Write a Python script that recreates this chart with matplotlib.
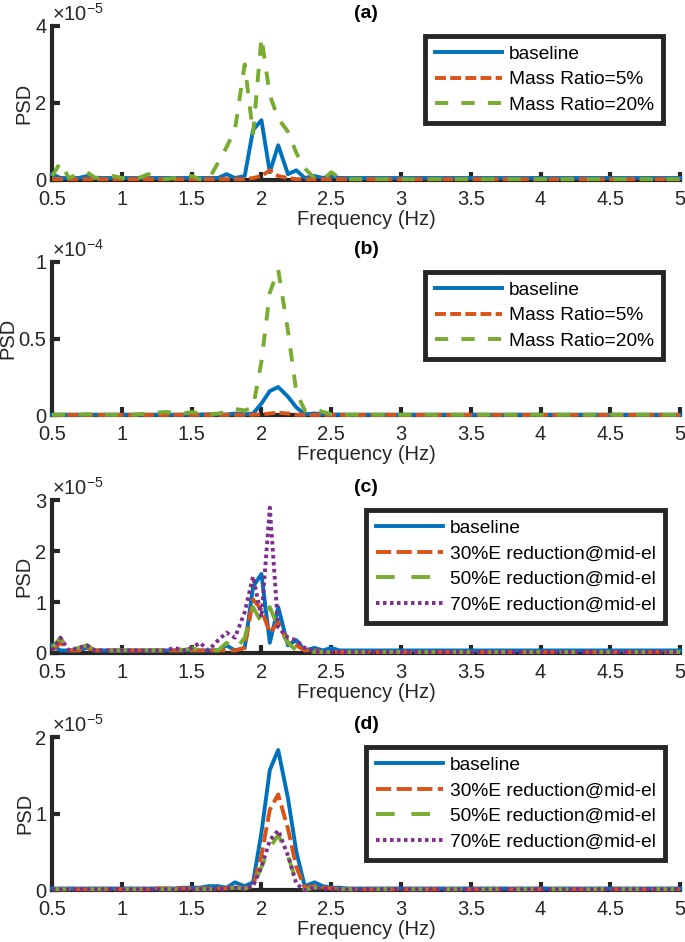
import numpy as np
import matplotlib
matplotlib.use('Agg')
import matplotlib.pyplot as plt

plt.rcParams['font.family'] = ['Liberation Sans', 'DejaVu Sans']
plt.rcParams['mathtext.fontset'] = 'custom'
plt.rcParams['mathtext.rm'] = 'Liberation Sans'

# frequency samples (Hz)
freq = [0.50, 0.56, 0.62, 0.69, 0.75, 0.81, 0.88, 0.94,
        1.00, 1.06, 1.12, 1.19, 1.25, 1.31, 1.38, 1.44,
        1.50, 1.56, 1.62, 1.69, 1.75, 1.81, 1.88, 1.94,
        2.00, 2.06, 2.12, 2.19, 2.25, 2.31, 2.38, 2.44,
        2.50, 2.56, 2.62, 2.69, 2.75, 3.00, 3.50, 4.00, 4.50, 5.00]

# PSD values, in units of 1e-5
baseline_1 = [0.15, 0.05, 0.05, 0.05, 0.10, 0.05, 0.05, 0.05,
              0.05, 0.05, 0.05, 0.05, 0.05, 0.05, 0.05, 0.05,
              0.05, 0.05, 0.05, 0.05, 0.15, 0.05, 0.10, 1.30,
              1.55, 0.20, 0.90, 0.15, 0.25, 0.05, 0.10, 0.05,
              0.10, 0.05, 0.05, 0.05, 0.05, 0.05, 0.05, 0.05, 0.05, 0.05]
mass5_a = [0.02, 0.02, 0.02, 0.02, 0.02, 0.02, 0.02, 0.02,
           0.02, 0.02, 0.02, 0.02, 0.02, 0.02, 0.02, 0.02,
           0.02, 0.02, 0.02, 0.02, 0.02, 0.02, 0.02, 0.05,
           0.10, 0.25, 0.10, 0.05, 0.02, 0.02, 0.02, 0.02,
           0.02, 0.02, 0.02, 0.02, 0.02, 0.02, 0.02, 0.02, 0.02, 0.02]
mass20_a = [0.10, 0.45, 0.05, 0.15, 0.20, 0.05, 0.10, 0.10,
            0.05, 0.05, 0.05, 0.15, 0.05, 0.02, 0.05, 0.10,
            0.10, 0.02, 0.00, 0.45, 0.85, 1.30, 3.00, 1.20,
            3.70, 2.20, 1.60, 1.25, 0.70, 0.30, 0.05, 0.00,
            0.20, 0.05, 0.02, 0.02, 0.02, 0.02, 0.02, 0.02, 0.02, 0.02]

baseline_2 = [0.02, 0.02, 0.02, 0.02, 0.02, 0.02, 0.02, 0.02,
              0.02, 0.02, 0.02, 0.02, 0.02, 0.02, 0.02, 0.03,
              0.03, 0.03, 0.05, 0.05, 0.03, 0.10, 0.05, 0.10,
              0.75, 1.57, 1.83, 1.20, 0.50, 0.05, 0.10, 0.05,
              0.03, 0.03, 0.02, 0.02, 0.02, 0.02, 0.02, 0.02, 0.02, 0.02]
mass5_b = [0.01, 0.01, 0.01, 0.01, 0.01, 0.01, 0.01, 0.01,
           0.01, 0.01, 0.01, 0.01, 0.01, 0.01, 0.01, 0.01,
           0.01, 0.01, 0.01, 0.01, 0.01, 0.01, 0.01, 0.02,
           0.05, 0.10, 0.15, 0.10, 0.02, 0.01, 0.01, 0.01,
           0.01, 0.01, 0.01, 0.01, 0.01, 0.01, 0.01, 0.01, 0.01, 0.01]
mass20_b = [0.02, 0.02, 0.02, 0.02, 0.05, 0.05, 0.02, 0.02,
            0.02, 0.02, 0.05, 0.10, 0.15, 0.20, 0.15, 0.10,
            0.20, 0.10, 0.05, 0.10, 0.20, 0.40, 0.30, 0.50,
            3.50, 8.00, 9.50, 5.50, 1.50, 0.30, 0.40, 0.20,
            0.05, 0.05, 0.02, 0.02, 0.02, 0.02, 0.02, 0.02, 0.02, 0.02]

red30_c = [0.05, 0.20, 0.05, 0.05, 0.10, 0.05, 0.05, 0.05,
           0.05, 0.05, 0.05, 0.05, 0.05, 0.05, 0.05, 0.05,
           0.05, 0.05, 0.05, 0.05, 0.05, 0.05, 0.10, 1.05,
           0.85, 0.40, 0.60, 0.20, 0.15, 0.05, 0.05, 0.02,
           0.02, 0.02, 0.02, 0.02, 0.02, 0.02, 0.02, 0.02, 0.02, 0.02]
red50_c = [0.10, 0.30, 0.05, 0.10, 0.15, 0.05, 0.05, 0.05,
           0.05, 0.05, 0.05, 0.05, 0.05, 0.05, 0.10, 0.05,
           0.10, 0.05, 0.05, 0.05, 0.20, 0.05, 0.30, 0.90,
           0.60, 0.90, 0.50, 0.20, 0.05, 0.05, 0.02, 0.02,
           0.02, 0.02, 0.02, 0.02, 0.02, 0.02, 0.02, 0.02, 0.02, 0.02]
red70_c = [0.05, 0.30, 0.05, 0.10, 0.15, 0.05, 0.05, 0.05,
           0.05, 0.05, 0.05, 0.05, 0.05, 0.05, 0.10, 0.05,
           0.10, 0.20, 0.05, 0.25, 0.40, 0.30, 0.80, 1.50,
           0.70, 2.85, 0.50, 0.30, 0.25, 0.10, 0.02, 0.02,
           0.02, 0.02, 0.02, 0.02, 0.02, 0.02, 0.02, 0.02, 0.02, 0.02]

red30_d = [0.01, 0.01, 0.01, 0.01, 0.01, 0.01, 0.01, 0.01,
           0.01, 0.01, 0.01, 0.01, 0.02, 0.02, 0.02, 0.02,
           0.02, 0.02, 0.02, 0.02, 0.02, 0.05, 0.02, 0.05,
           0.45, 1.05, 1.25, 0.80, 0.30, 0.03, 0.05, 0.03,
           0.02, 0.02, 0.01, 0.01, 0.01, 0.01, 0.01, 0.01, 0.01, 0.01]
red50_d = [0.01, 0.01, 0.01, 0.01, 0.01, 0.01, 0.01, 0.01,
           0.01, 0.01, 0.01, 0.01, 0.01, 0.01, 0.01, 0.01,
           0.01, 0.01, 0.01, 0.01, 0.02, 0.03, 0.02, 0.05,
           0.30, 0.55, 0.72, 0.45, 0.10, 0.00, 0.03, 0.02,
           0.01, 0.01, 0.01, 0.01, 0.01, 0.01, 0.01, 0.01, 0.01, 0.01]
red70_d = [0.01, 0.01, 0.01, 0.01, 0.01, 0.01, 0.01, 0.01,
           0.01, 0.01, 0.01, 0.01, 0.01, 0.01, 0.01, 0.01,
           0.01, 0.01, 0.01, 0.01, 0.02, 0.03, 0.02, 0.05,
           0.30, 0.65, 0.78, 0.45, 0.08, 0.00, 0.03, 0.02,
           0.01, 0.01, 0.01, 0.01, 0.01, 0.01, 0.01, 0.01, 0.01, 0.01]

xticks = [0.5, 1, 1.5, 2, 2.5, 3, 3.5, 4, 4.5, 5]
xticklabels = ['0.5', '1', '1.5', '2', '2.5', '3', '3.5', '4', '4.5', '5']

labels_mass = ['baseline', 'Mass Ratio=5%', 'Mass Ratio=20%']
labels_red = ['baseline', '30%E reduction@mid-el', '50%E reduction@mid-el',
              '70%E reduction@mid-el']

BLUE = '#0072BD'
ORANGE = '#D95319'
GREEN = '#77AC30'
PURPLE = '#7E2F8E'
AX_COL = '#262626'

style_mass = [(BLUE, '-'), (ORANGE, (0, (2.8, 1.1))), (GREEN, (0, (3.4, 3.4)))]
style_red = [(BLUE, '-'), (ORANGE, (0, (3.9, 1.4))), (GREEN, (0, (4.8, 4.3))),
             (PURPLE, (0, (0.9, 0.9)))]


def draw_panel(ax, series, labels, styles, ymax, yticks, yticklabels, expo, tag, leg_anchor):
    for vals, lab, (col, ls) in zip(series, labels, styles):
        ax.plot(freq, np.array(vals) * 1e-5, color=col, linestyle=ls, lw=2.8,
                label=lab, clip_on=False, zorder=3)
    ax.set_xlim(0.5, 5)
    ax.set_ylim(0, ymax)
    ax.set_xticks(xticks)
    ax.set_xticklabels(xticklabels)
    ax.set_yticks(yticks)
    ax.set_yticklabels(yticklabels)
    for s in ['top', 'right']:
        ax.spines[s].set_visible(False)
    for s in ['left', 'bottom']:
        ax.spines[s].set_linewidth(3)
        ax.spines[s].set_color(AX_COL)
    ax.tick_params(direction='in', length=6, width=3, color=AX_COL,
                   labelsize=14.5, labelcolor=AX_COL)
    ax.tick_params(axis='x', pad=7.5)
    ax.tick_params(axis='y', pad=4)
    ax.set_xlabel('Frequency (Hz)', fontsize=14.5, color=AX_COL, labelpad=0.5)
    ax.set_ylabel('PSD', fontsize=14.5, color=AX_COL, labelpad=1)
    ax.set_title(tag, fontsize=14, fontweight='bold', pad=6)
    ax.text(0.0, 1.01, r'$\times$10$^{\mathregular{%s}}$' % expo, transform=ax.transAxes,
            fontsize=14.5, color=AX_COL, va='bottom', ha='left')
    leg = ax.legend(loc='upper right', bbox_to_anchor=leg_anchor, fontsize=13.8,
                    handlelength=3.5, handletextpad=0.35, labelspacing=0.42,
                    borderpad=0.5, fancybox=False, framealpha=1,
                    edgecolor=AX_COL, borderaxespad=0)
    leg.get_frame().set_linewidth(3.5)


fig = plt.figure(figsize=(6.85, 9.42), dpi=100)
ax_a = fig.add_axes([0.076, 0.809, 0.917, 0.1635])
ax_b = fig.add_axes([0.076, 0.5594, 0.917, 0.1625])
ax_c = fig.add_axes([0.076, 0.3068, 0.917, 0.1624])
ax_d = fig.add_axes([0.076, 0.0552, 0.917, 0.1624])

draw_panel(ax_a, [baseline_1, mass5_a, mass20_a], labels_mass, style_mass,
           4e-5, [0, 2e-5, 4e-5], ['0', '2', '4'], '-5', '(a)', (0.973, 0.935))
draw_panel(ax_b, [baseline_2, mass5_b, mass20_b], labels_mass, style_mass,
           1e-4, [0, 0.5e-4, 1e-4], ['0', '0.5', '1'], '-4', '(b)', (0.973, 0.935))
draw_panel(ax_c, [baseline_1, red30_c, red50_c, red70_c], labels_red, style_red,
           3e-5, [0, 1e-5, 2e-5, 3e-5], ['0', '1', '2', '3'], '-5', '(c)', (0.976, 0.935))
draw_panel(ax_d, [baseline_2, red30_d, red50_d, red70_d], labels_red, style_red,
           2e-5, [0, 1e-5, 2e-5], ['0', '1', '2'], '-5', '(d)', (0.976, 0.935))

fig.savefig('out.png', dpi=100)
